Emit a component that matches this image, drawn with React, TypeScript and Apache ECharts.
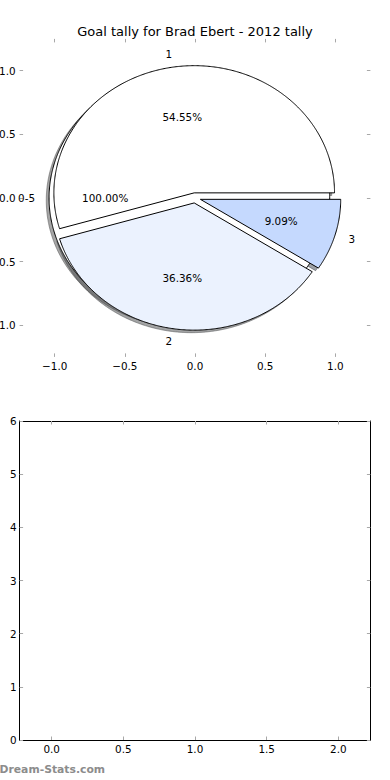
import React, { useEffect, useRef } from "react";
import * as echarts from "echarts";

const pieTitle = "Goal tally for Brad Ebert - 2012 tally";
const outerLabels = ["0-5"];
const outerValues = [11];
const outerColors = ["#ffffff"];
const sliceLabels = ["1", "2", "3"];
const sliceValues = [6, 4, 1];
const sliceColors = ["#ffffff", "#ebf2fe", "#c5d9fe"];
const pieTicks = [-1, -0.5, 0, 0.5, 1];
const barXTicks = [0, 0.5, 1, 1.5, 2];
const barYMin = 0;
const barYMax = 6;
const watermark = "Dream-Stats.com";

const EXPLODE = 0.04;
const SHADOW = 0.02;
const FONT = "'DejaVu Sans', sans-serif";
const LABEL_SIZE = 10.4;

type Wedge = {
  t1: number;
  t2: number;
  cx: number;
  cy: number;
  label: string;
  pct: string;
  color: string;
  full: boolean;
};

function buildWedges(values: number[], labels: string[], colors: string[], explode: number): Wedge[] {
  const total = values.reduce((a, b) => a + b, 0);
  let t = 0;
  return values.map((v, i) => {
    const frac = v / total;
    const t1 = t;
    const t2 = t + frac * 2 * Math.PI;
    t = t2;
    const mid = (t1 + t2) / 2;
    return {
      t1,
      t2,
      cx: explode * Math.cos(mid),
      cy: explode * Math.sin(mid),
      label: labels[i],
      pct: (frac * 100).toFixed(2) + "%",
      color: colors[i],
      full: frac >= 0.99999,
    };
  });
}

const outerWedges = buildWedges(outerValues, outerLabels, outerColors, EXPLODE);
const sliceWedges = buildWedges(sliceValues, sliceLabels, sliceColors, EXPLODE);
const allWedges = [...outerWedges, ...sliceWedges];

function shadowColor(hex: string) {
  const r = parseInt(hex.slice(1, 3), 16);
  const g = parseInt(hex.slice(3, 5), 16);
  const b = parseInt(hex.slice(5, 7), 16);
  return `rgba(${Math.round(r * 0.3)},${Math.round(g * 0.3)},${Math.round(b * 0.3)},0.5)`;
}

function wedgePoints(w: Wedge, api: any, ox: number, oy: number) {
  const pts: number[][] = [];
  if (!w.full) pts.push(api.coord([w.cx + ox, w.cy + oy]));
  const n = Math.max(8, Math.ceil((w.t2 - w.t1) / (Math.PI / 360)));
  for (let k = 0; k <= n; k++) {
    const a = w.t1 + ((w.t2 - w.t1) * k) / n;
    pts.push(api.coord([w.cx + ox + Math.cos(a), w.cy + oy + Math.sin(a)]));
  }
  return pts;
}

const fmtSigned = (v: number) => (v < 0 ? "\u2212" : "") + Math.abs(v).toFixed(1);

const tickStyle = { color: "#a8a8a8", width: 1 };
const labelStyle = { color: "#000", fontFamily: FONT, fontSize: LABEL_SIZE };

function pieAxis(position: string, showLabel: boolean) {
  return {
    gridIndex: 0,
    type: "value",
    position,
    min: -1.25,
    max: 1.25,
    axisLine: { show: false, onZero: false },
    splitLine: { show: false },
    axisTick: { show: true, inside: true, length: 3.5, customValues: pieTicks, lineStyle: tickStyle },
    axisLabel: {
      show: showLabel,
      customValues: pieTicks,
      formatter: (v: number) => fmtSigned(v),
      margin: 4,
      ...labelStyle,
    },
  };
}

function barX(position: string, showLabel: boolean) {
  return {
    gridIndex: 1,
    type: "value",
    position,
    min: -0.224,
    max: 2.224,
    axisLine: { show: true, onZero: false, lineStyle: { color: "#000", width: 1 } },
    splitLine: { show: false },
    axisTick: { show: true, inside: true, length: 3.5, customValues: barXTicks, lineStyle: tickStyle },
    axisLabel: {
      show: showLabel,
      customValues: barXTicks,
      formatter: (v: number) => v.toFixed(1),
      margin: 4,
      ...labelStyle,
    },
  };
}

function barY(position: string, showLabel: boolean) {
  return {
    gridIndex: 1,
    type: "value",
    position,
    min: barYMin,
    max: barYMax,
    interval: 1,
    axisLine: { show: true, onZero: false, lineStyle: { color: "#000", width: 1 } },
    splitLine: { show: false },
    axisTick: { show: true, inside: true, length: 3.5, lineStyle: tickStyle },
    axisLabel: {
      show: showLabel,
      formatter: (v: number) => String(Math.round(v)),
      margin: 3,
      ...labelStyle,
    },
  };
}

function buildOption() {
  return {
    animation: false,
    backgroundColor: "#ffffff",
    title: {
      text: pieTitle,
      left: "center",
      top: 20,
      textStyle: { fontFamily: FONT, fontSize: 13, fontWeight: "normal", color: "#000" },
    },
    grid: [
      { left: 19.6, top: 38.9, width: 350.8, height: 318, outerBoundsMode: "none", containLabel: false },
      { left: 19.6, top: 421, width: 350.8, height: 319, outerBoundsMode: "none", containLabel: false },
    ],
    xAxis: [pieAxis("bottom", true), pieAxis("top", false), barX("bottom", true), barX("top", false)],
    yAxis: [pieAxis("left", true), pieAxis("right", false), barY("left", true), barY("right", false)],
    graphic: [
      {
        type: "text",
        x: -0.5,
        y: 769,
        style: {
          text: watermark,
          fill: "#8c8c8c",
          fontFamily: FONT,
          fontSize: 10.8,
          fontWeight: "bold",
          verticalAlign: "middle",
          align: "left",
        },
      },
    ],
    series: [
      {
        type: "custom",
        name: "shadows",
        xAxisIndex: 0,
        yAxisIndex: 0,
        silent: true,
        z: 1,
        data: allWedges.map((_, i) => [i]),
        renderItem: (params: any, api: any) => {
          const w = allWedges[params.dataIndex];
          const c = shadowColor(w.color);
          return {
            type: "polygon",
            shape: { points: wedgePoints(w, api, -SHADOW, -SHADOW) },
            style: { fill: c, stroke: c, lineWidth: 1 },
          };
        },
      },
      {
        type: "custom",
        name: "outer",
        xAxisIndex: 0,
        yAxisIndex: 0,
        silent: true,
        z: 2,
        data: outerWedges.map((_, i) => [i]),
        renderItem: (params: any, api: any) => {
          const w = outerWedges[params.dataIndex];
          return {
            type: "polygon",
            shape: { points: wedgePoints(w, api, 0, 0) },
            style: { fill: w.color, stroke: "#000", lineWidth: 1 },
          };
        },
      },
      {
        type: "custom",
        name: "slices",
        xAxisIndex: 0,
        yAxisIndex: 0,
        silent: true,
        z: 3,
        data: sliceWedges.map((_, i) => [i]),
        renderItem: (params: any, api: any) => {
          const w = sliceWedges[params.dataIndex];
          return {
            type: "polygon",
            shape: { points: wedgePoints(w, api, 0, 0) },
            style: { fill: w.color, stroke: "#000", lineWidth: 1, lineJoin: "miter" },
          };
        },
      },
      {
        type: "custom",
        name: "labels",
        xAxisIndex: 0,
        yAxisIndex: 0,
        silent: true,
        z: 4,
        data: allWedges.map((_, i) => [i]),
        renderItem: (params: any, api: any) => {
          const w = allWedges[params.dataIndex];
          const mid = (w.t1 + w.t2) / 2;
          const lx = w.cx + 1.1 * Math.cos(mid);
          const ly = w.cy + 1.1 * Math.sin(mid);
          const qx = w.cx + 0.6 * Math.cos(mid);
          const qy = w.cy + 0.6 * Math.sin(mid);
          const lp = api.coord([lx, ly]);
          const qp = api.coord([qx, qy]);
          return {
            type: "group",
            children: [
              {
                type: "text",
                x: lp[0],
                y: lp[1],
                style: {
                  text: w.label,
                  fill: "#000",
                  fontFamily: FONT,
                  fontSize: LABEL_SIZE,
                  align: lx > 0 ? "left" : "right",
                  verticalAlign: "middle",
                },
              },
              {
                type: "text",
                x: qp[0],
                y: qp[1],
                style: {
                  text: w.pct,
                  fill: "#000",
                  fontFamily: FONT,
                  fontSize: LABEL_SIZE,
                  align: "center",
                  verticalAlign: "middle",
                },
              },
            ],
          };
        },
      },
      {
        type: "line",
        name: "goals",
        xAxisIndex: 2,
        yAxisIndex: 2,
        data: [],
      },
    ],
  };
}

export default function App() {
  const ref = useRef<HTMLDivElement>(null);
  useEffect(() => {
    if (!ref.current) return;
    const chart = echarts.init(ref.current, null, { renderer: "svg" });
    chart.setOption(buildOption() as any);
    return () => {
      chart.dispose();
    };
  }, []);
  return (
    <div
      ref={ref}
      style={{ position: "absolute", left: 0, top: 0, width: 390, height: 780, background: "#fff" }}
    />
  );
}
